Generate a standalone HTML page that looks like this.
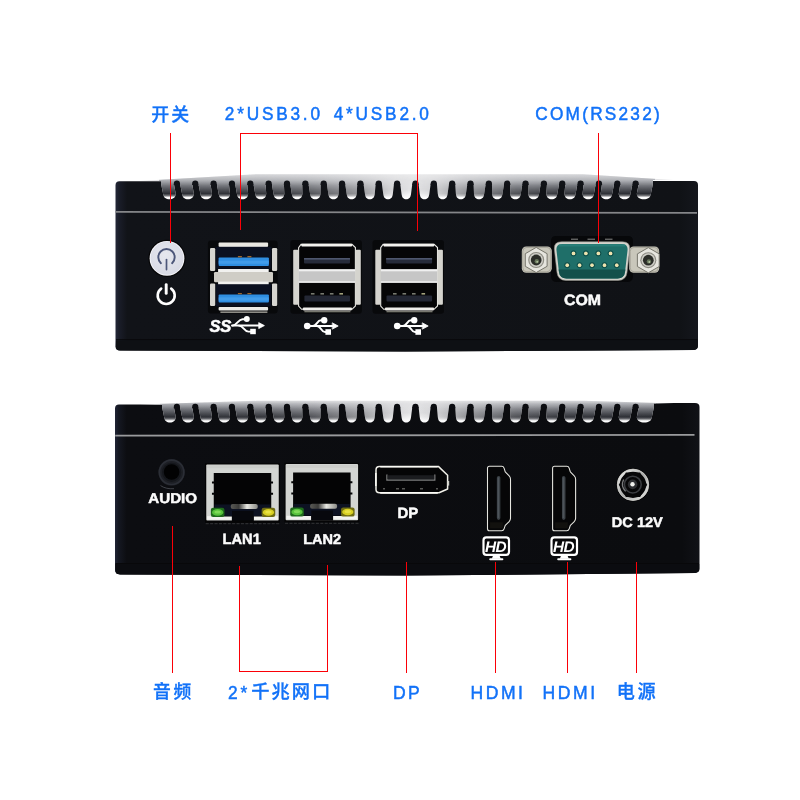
<!DOCTYPE html>
<html lang="zh-CN">
<head>
<meta charset="utf-8">
<title>接口说明</title>
<style>
html,body{margin:0;padding:0;background:#fff;}
body{width:800px;height:800px;overflow:hidden;position:relative;font-family:"Liberation Sans","Noto Sans CJK SC",sans-serif;}
svg{position:absolute;left:0;top:0;display:block;will-change:transform;}
.lb{font-family:"Liberation Sans","Noto Sans CJK SC",sans-serif;fill:#1272f8;stroke:#1272f8;stroke-width:0.5px;}
.cj{font-family:"Liberation Sans","Noto Sans CJK SC",sans-serif;fill:#1272f8;font-weight:500;stroke:#1272f8;stroke-width:0.3px;}
.dv{font-family:"Liberation Sans",sans-serif;font-weight:bold;fill:#fcfcfc;stroke:#fcfcfc;stroke-width:0.5px;stroke-linejoin:round;text-rendering:geometricPrecision;}
</style>
</head>
<body>
<svg width="800" height="800" viewBox="0 0 800 800">
<defs>
<radialGradient id="btn" cx="0.45" cy="0.4" r="0.7">
<stop offset="0" stop-color="#e6e7ee"/><stop offset="1" stop-color="#d6d8e3"/>
</radialGradient>
<linearGradient id="lanmetal" x1="0" y1="0" x2="1" y2="0">
<stop offset="0" stop-color="#5a5a55"/><stop offset="0.3" stop-color="#3a3a38"/><stop offset="0.6" stop-color="#e8e8e2"/><stop offset="1" stop-color="#8a8a84"/>
</linearGradient>
<linearGradient id="dcring" x1="0" y1="0" x2="1" y2="1">
<stop offset="0" stop-color="#f2f2f0"/><stop offset="0.5" stop-color="#a8a9a8"/><stop offset="1" stop-color="#e6e6e4"/>
</linearGradient>
<filter id="soft" x="-5%" y="-20%" width="110%" height="140%"><feGaussianBlur stdDeviation="0.3"/></filter>
<linearGradient id="bodyg" x1="0" y1="0" x2="1" y2="0">
<stop offset="0" stop-color="#242839"/><stop offset="0.006" stop-color="#1a1d29"/><stop offset="0.02" stop-color="#111318"/><stop offset="0.97" stop-color="#101216"/><stop offset="1" stop-color="#15171d"/>
</linearGradient>
<linearGradient id="bodyg2" x1="0" y1="0" x2="1" y2="0">
<stop offset="0" stop-color="#202435"/><stop offset="0.006" stop-color="#151822"/><stop offset="0.02" stop-color="#0c0d11"/><stop offset="0.97" stop-color="#0b0c0f"/><stop offset="1" stop-color="#111217"/>
</linearGradient>
</defs>

<!-- ============ TOP DEVICE (front) ============ -->
<g id="front">
<path d="M119.5 181.2 H161 V183 H653 V181 H694 Q698 181 698 185 V346 Q698 349.6 694 350 L405 351.6 L120 350.6 Q115.5 350.2 115.5 346.4 V185.2 Q115.5 181.2 119.5 181.2 Z" fill="url(#bodyg)"/>
<defs>
<linearGradient id="alt" x1="0" y1="174.2" x2="0" y2="199.2" gradientUnits="userSpaceOnUse">
<stop offset="0" stop-color="#ebebec"/><stop offset="0.248" stop-color="#e3e3e5"/><stop offset="0.608" stop-color="#e4e4e6"/><stop offset="0.808" stop-color="#f6f6f7"/><stop offset="1" stop-color="#ffffff"/>
</linearGradient>
<linearGradient id="adk" x1="0" y1="174.2" x2="0" y2="199.2" gradientUnits="userSpaceOnUse">
<stop offset="0" stop-color="#c8c9cd" stop-opacity="0.6"/><stop offset="0.248" stop-color="#a8aaaf" stop-opacity="0.9"/><stop offset="0.448" stop-color="#74767c" stop-opacity="1"/><stop offset="0.648" stop-color="#45474d" stop-opacity="1"/><stop offset="0.776" stop-color="#2a2c32" stop-opacity="1"/><stop offset="0.848" stop-color="#2a2c32" stop-opacity="0.7"/><stop offset="0.928" stop-color="#2a2c32" stop-opacity="0"/>
</linearGradient>
<linearGradient id="amx" x1="161" y1="0" x2="653" y2="0" gradientUnits="userSpaceOnUse">
<stop offset="0" stop-color="#fff"/><stop offset="0.2" stop-color="#f4f4f4"/><stop offset="0.3" stop-color="#cfcfcf"/><stop offset="0.4" stop-color="#7a7a7a"/><stop offset="0.47" stop-color="#1c1c1c"/><stop offset="0.51" stop-color="#000"/><stop offset="0.55" stop-color="#1c1c1c"/><stop offset="0.62" stop-color="#7a7a7a"/><stop offset="0.72" stop-color="#cfcfcf"/><stop offset="0.82" stop-color="#f4f4f4"/><stop offset="1" stop-color="#fff"/>
</linearGradient>
<mask id="amk" maskUnits="userSpaceOnUse" x="159" y="172.2" width="496" height="31.0"><rect x="159" y="172.2" width="496" height="31.0" fill="url(#amx)"/></mask>
</defs>
<path d="M139.00 181.00 L161.00 181.00 L161.00 183.40 L163.20 194.00 C163.70 198.00 166.03 199.20 169.49 199.20 C172.94 199.20 175.27 198.00 175.77 194.00 L173.80 183.40 L180.00 183.40 L182.14 194.00 C182.64 198.00 184.78 199.20 188.00 199.20 C191.23 199.20 193.36 198.00 193.86 194.00 L192.15 183.40 L198.35 183.40 L200.42 194.00 C200.92 198.00 203.02 199.20 206.19 199.20 C209.36 199.20 211.45 198.00 211.95 194.00 L210.50 183.40 L216.70 183.40 L218.71 194.00 C219.21 198.00 221.26 199.20 224.37 199.20 C227.49 199.20 229.54 198.00 230.04 194.00 L228.85 183.40 L235.05 183.40 L236.99 194.00 C237.49 198.00 239.50 199.20 242.56 199.20 C245.62 199.20 247.63 198.00 248.13 194.00 L247.20 183.40 L253.40 183.40 L255.27 194.00 C255.77 198.00 257.74 199.20 260.75 199.20 C263.76 199.20 265.72 198.00 266.22 194.00 L265.55 183.40 L271.75 183.40 L273.56 194.00 C274.06 198.00 275.98 199.20 278.93 199.20 C281.89 199.20 283.81 198.00 284.31 194.00 L283.90 183.40 L290.10 183.40 L291.84 194.00 C292.34 198.00 294.21 199.20 297.12 199.20 C300.02 199.20 301.90 198.00 302.40 194.00 L302.25 183.40 L308.45 183.40 L310.12 194.00 C310.62 198.00 312.45 199.20 315.30 199.20 C318.15 199.20 319.99 198.00 320.49 194.00 L320.60 183.40 L326.80 183.40 L328.40 194.00 C328.90 198.00 330.69 199.20 333.49 199.20 C336.29 199.20 338.07 198.00 338.57 194.00 L338.95 183.40 L345.15 183.40 L346.69 194.00 C347.19 198.00 348.93 199.20 351.68 199.20 C354.42 199.20 356.16 198.00 356.66 194.00 L357.30 183.40 L363.50 183.40 L364.97 194.00 C365.47 198.00 367.17 199.20 369.86 199.20 C372.55 199.20 374.25 198.00 374.75 194.00 L375.65 183.40 L381.85 183.40 L383.25 194.00 C383.75 198.00 385.41 199.20 388.05 199.20 C390.68 199.20 392.34 198.00 392.84 194.00 L394.00 183.40 L400.20 183.40 L401.54 194.00 C402.04 198.00 403.67 199.20 406.28 199.20 C408.89 199.20 410.52 198.00 411.02 194.00 L412.35 183.40 L418.55 183.40 L419.73 194.00 C420.23 198.00 421.88 199.20 424.52 199.20 C427.15 199.20 428.80 198.00 429.30 194.00 L430.70 183.40 L436.90 183.40 L437.82 194.00 C438.32 198.00 440.02 199.20 442.70 199.20 C445.39 199.20 447.08 198.00 447.58 194.00 L449.05 183.40 L455.25 183.40 L455.91 194.00 C456.41 198.00 458.15 199.20 460.89 199.20 C463.63 199.20 465.37 198.00 465.87 194.00 L467.40 183.40 L473.60 183.40 L474.00 194.00 C474.50 198.00 476.28 199.20 479.07 199.20 C481.87 199.20 483.65 198.00 484.15 194.00 L485.75 183.40 L491.95 183.40 L492.09 194.00 C492.59 198.00 494.41 199.20 497.26 199.20 C500.11 199.20 501.93 198.00 502.43 194.00 L504.10 183.40 L510.30 183.40 L510.17 194.00 C510.67 198.00 512.55 199.20 515.45 199.20 C518.34 199.20 520.22 198.00 520.72 194.00 L522.45 183.40 L528.65 183.40 L528.26 194.00 C528.76 198.00 530.68 199.20 533.63 199.20 C536.58 199.20 538.50 198.00 539.00 194.00 L540.80 183.40 L547.00 183.40 L546.35 194.00 C546.85 198.00 548.81 199.20 551.82 199.20 C554.82 199.20 556.78 198.00 557.28 194.00 L559.15 183.40 L565.35 183.40 L564.44 194.00 C564.94 198.00 566.94 199.20 570.00 199.20 C573.06 199.20 575.06 198.00 575.56 194.00 L577.50 183.40 L583.70 183.40 L582.53 194.00 C583.03 198.00 585.08 199.20 588.19 199.20 C591.30 199.20 593.35 198.00 593.85 194.00 L595.85 183.40 L602.05 183.40 L600.62 194.00 C601.12 198.00 603.21 199.20 606.37 199.20 C609.54 199.20 611.63 198.00 612.13 194.00 L614.20 183.40 L620.40 183.40 L618.71 194.00 C619.21 198.00 621.34 199.20 624.56 199.20 C627.78 199.20 629.91 198.00 630.41 194.00 L632.55 183.40 L638.75 183.40 L636.80 194.00 C637.30 198.00 639.95 199.20 643.80 199.20 C647.65 199.20 650.30 198.00 650.80 194.00 L653.00 183.40 L653.00 180.00 L673.00 180.00 L583.00 174.20 L256.00 174.20 Z" fill="url(#alt)"/>
<g mask="url(#amk)"><path d="M139.00 181.00 L161.00 181.00 L161.00 183.40 L163.20 194.00 C163.70 198.00 166.03 199.20 169.49 199.20 C172.94 199.20 175.27 198.00 175.77 194.00 L173.80 183.40 L180.00 183.40 L182.14 194.00 C182.64 198.00 184.78 199.20 188.00 199.20 C191.23 199.20 193.36 198.00 193.86 194.00 L192.15 183.40 L198.35 183.40 L200.42 194.00 C200.92 198.00 203.02 199.20 206.19 199.20 C209.36 199.20 211.45 198.00 211.95 194.00 L210.50 183.40 L216.70 183.40 L218.71 194.00 C219.21 198.00 221.26 199.20 224.37 199.20 C227.49 199.20 229.54 198.00 230.04 194.00 L228.85 183.40 L235.05 183.40 L236.99 194.00 C237.49 198.00 239.50 199.20 242.56 199.20 C245.62 199.20 247.63 198.00 248.13 194.00 L247.20 183.40 L253.40 183.40 L255.27 194.00 C255.77 198.00 257.74 199.20 260.75 199.20 C263.76 199.20 265.72 198.00 266.22 194.00 L265.55 183.40 L271.75 183.40 L273.56 194.00 C274.06 198.00 275.98 199.20 278.93 199.20 C281.89 199.20 283.81 198.00 284.31 194.00 L283.90 183.40 L290.10 183.40 L291.84 194.00 C292.34 198.00 294.21 199.20 297.12 199.20 C300.02 199.20 301.90 198.00 302.40 194.00 L302.25 183.40 L308.45 183.40 L310.12 194.00 C310.62 198.00 312.45 199.20 315.30 199.20 C318.15 199.20 319.99 198.00 320.49 194.00 L320.60 183.40 L326.80 183.40 L328.40 194.00 C328.90 198.00 330.69 199.20 333.49 199.20 C336.29 199.20 338.07 198.00 338.57 194.00 L338.95 183.40 L345.15 183.40 L346.69 194.00 C347.19 198.00 348.93 199.20 351.68 199.20 C354.42 199.20 356.16 198.00 356.66 194.00 L357.30 183.40 L363.50 183.40 L364.97 194.00 C365.47 198.00 367.17 199.20 369.86 199.20 C372.55 199.20 374.25 198.00 374.75 194.00 L375.65 183.40 L381.85 183.40 L383.25 194.00 C383.75 198.00 385.41 199.20 388.05 199.20 C390.68 199.20 392.34 198.00 392.84 194.00 L394.00 183.40 L400.20 183.40 L401.54 194.00 C402.04 198.00 403.67 199.20 406.28 199.20 C408.89 199.20 410.52 198.00 411.02 194.00 L412.35 183.40 L418.55 183.40 L419.73 194.00 C420.23 198.00 421.88 199.20 424.52 199.20 C427.15 199.20 428.80 198.00 429.30 194.00 L430.70 183.40 L436.90 183.40 L437.82 194.00 C438.32 198.00 440.02 199.20 442.70 199.20 C445.39 199.20 447.08 198.00 447.58 194.00 L449.05 183.40 L455.25 183.40 L455.91 194.00 C456.41 198.00 458.15 199.20 460.89 199.20 C463.63 199.20 465.37 198.00 465.87 194.00 L467.40 183.40 L473.60 183.40 L474.00 194.00 C474.50 198.00 476.28 199.20 479.07 199.20 C481.87 199.20 483.65 198.00 484.15 194.00 L485.75 183.40 L491.95 183.40 L492.09 194.00 C492.59 198.00 494.41 199.20 497.26 199.20 C500.11 199.20 501.93 198.00 502.43 194.00 L504.10 183.40 L510.30 183.40 L510.17 194.00 C510.67 198.00 512.55 199.20 515.45 199.20 C518.34 199.20 520.22 198.00 520.72 194.00 L522.45 183.40 L528.65 183.40 L528.26 194.00 C528.76 198.00 530.68 199.20 533.63 199.20 C536.58 199.20 538.50 198.00 539.00 194.00 L540.80 183.40 L547.00 183.40 L546.35 194.00 C546.85 198.00 548.81 199.20 551.82 199.20 C554.82 199.20 556.78 198.00 557.28 194.00 L559.15 183.40 L565.35 183.40 L564.44 194.00 C564.94 198.00 566.94 199.20 570.00 199.20 C573.06 199.20 575.06 198.00 575.56 194.00 L577.50 183.40 L583.70 183.40 L582.53 194.00 C583.03 198.00 585.08 199.20 588.19 199.20 C591.30 199.20 593.35 198.00 593.85 194.00 L595.85 183.40 L602.05 183.40 L600.62 194.00 C601.12 198.00 603.21 199.20 606.37 199.20 C609.54 199.20 611.63 198.00 612.13 194.00 L614.20 183.40 L620.40 183.40 L618.71 194.00 C619.21 198.00 621.34 199.20 624.56 199.20 C627.78 199.20 629.91 198.00 630.41 194.00 L632.55 183.40 L638.75 183.40 L636.80 194.00 C637.30 198.00 639.95 199.20 643.80 199.20 C647.65 199.20 650.30 198.00 650.80 194.00 L653.00 183.40 L653.00 180.00 L673.00 180.00 L583.00 174.20 L256.00 174.20 Z" fill="url(#adk)"/></g>
<path d="M173.70 184.90 L173.80 183.50 A3.10 3.10 0 0 1 180.00 183.50 L180.10 184.90 Z" fill="#111318"/>
<path d="M192.05 184.90 L192.15 183.50 A3.10 3.10 0 0 1 198.35 183.50 L198.45 184.90 Z" fill="#111318"/>
<path d="M210.40 184.90 L210.50 183.50 A3.10 3.10 0 0 1 216.70 183.50 L216.80 184.90 Z" fill="#111318"/>
<path d="M228.75 184.90 L228.85 183.50 A3.10 3.10 0 0 1 235.05 183.50 L235.15 184.90 Z" fill="#111318"/>
<path d="M247.10 184.90 L247.20 183.50 A3.10 3.10 0 0 1 253.40 183.50 L253.50 184.90 Z" fill="#111318"/>
<path d="M265.45 184.90 L265.55 183.50 A3.10 3.10 0 0 1 271.75 183.50 L271.85 184.90 Z" fill="#111318"/>
<path d="M283.80 184.90 L283.90 183.50 A3.10 3.10 0 0 1 290.10 183.50 L290.20 184.90 Z" fill="#111318"/>
<path d="M302.15 184.90 L302.25 183.50 A3.10 3.10 0 0 1 308.45 183.50 L308.55 184.90 Z" fill="#111318"/>
<path d="M320.50 184.90 L320.60 183.50 A3.10 3.10 0 0 1 326.80 183.50 L326.90 184.90 Z" fill="#111318"/>
<path d="M338.85 184.90 L338.95 183.50 A3.10 3.10 0 0 1 345.15 183.50 L345.25 184.90 Z" fill="#111318"/>
<path d="M357.20 184.90 L357.30 183.50 A3.10 3.10 0 0 1 363.50 183.50 L363.60 184.90 Z" fill="#111318"/>
<path d="M375.55 184.90 L375.65 183.50 A3.10 3.10 0 0 1 381.85 183.50 L381.95 184.90 Z" fill="#111318"/>
<path d="M393.90 184.90 L394.00 183.50 A3.10 3.10 0 0 1 400.20 183.50 L400.30 184.90 Z" fill="#111318"/>
<path d="M412.25 184.90 L412.35 183.50 A3.10 3.10 0 0 1 418.55 183.50 L418.65 184.90 Z" fill="#111318"/>
<path d="M430.60 184.90 L430.70 183.50 A3.10 3.10 0 0 1 436.90 183.50 L437.00 184.90 Z" fill="#111318"/>
<path d="M448.95 184.90 L449.05 183.50 A3.10 3.10 0 0 1 455.25 183.50 L455.35 184.90 Z" fill="#111318"/>
<path d="M467.30 184.90 L467.40 183.50 A3.10 3.10 0 0 1 473.60 183.50 L473.70 184.90 Z" fill="#111318"/>
<path d="M485.65 184.90 L485.75 183.50 A3.10 3.10 0 0 1 491.95 183.50 L492.05 184.90 Z" fill="#111318"/>
<path d="M504.00 184.90 L504.10 183.50 A3.10 3.10 0 0 1 510.30 183.50 L510.40 184.90 Z" fill="#111318"/>
<path d="M522.35 184.90 L522.45 183.50 A3.10 3.10 0 0 1 528.65 183.50 L528.75 184.90 Z" fill="#111318"/>
<path d="M540.70 184.90 L540.80 183.50 A3.10 3.10 0 0 1 547.00 183.50 L547.10 184.90 Z" fill="#111318"/>
<path d="M559.05 184.90 L559.15 183.50 A3.10 3.10 0 0 1 565.35 183.50 L565.45 184.90 Z" fill="#111318"/>
<path d="M577.40 184.90 L577.50 183.50 A3.10 3.10 0 0 1 583.70 183.50 L583.80 184.90 Z" fill="#111318"/>
<path d="M595.75 184.90 L595.85 183.50 A3.10 3.10 0 0 1 602.05 183.50 L602.15 184.90 Z" fill="#111318"/>
<path d="M614.10 184.90 L614.20 183.50 A3.10 3.10 0 0 1 620.40 183.50 L620.50 184.90 Z" fill="#111318"/>
<path d="M632.45 184.90 L632.55 183.50 A3.10 3.10 0 0 1 638.75 183.50 L638.85 184.90 Z" fill="#111318"/>
<path d="M115.6 211 L697 212 V213.8 L115.6 212.8 Z" fill="#858689"/>
<rect x="116" y="339.2" width="581.5" height="1.1" fill="#08080a"/>
<path d="M116 340.3 H697.8 V346 Q697.8 349.6 694 350 L405 351.6 L120 350.6 Q115.8 350.2 115.8 346.4 Z" fill="#0e1014"/>
<g>
<circle cx="167" cy="258.3" r="18.6" fill="#050506"/>
<circle cx="167" cy="258.3" r="17.4" fill="#f6f6fa"/>
<circle cx="167" cy="258.3" r="16.5" fill="url(#btn)"/>
<path d="M160.9 263.2 A8.2 8.2 0 1 1 172.1 263.2" fill="none" stroke="#4c5679" stroke-width="1.9" stroke-linecap="round"/>
<path d="M166.5 259.6 V269.6" stroke="#4c5679" stroke-width="1.7" stroke-linecap="round"/>
<path d="M161.2 288.6 A8.5 8.5 0 1 0 171.2 288.6" fill="none" stroke="#ffffff" stroke-width="2.6" stroke-linecap="round"/>
<path d="M166.2 284.6 V293.4" stroke="#ffffff" stroke-width="2.9" stroke-linecap="round"/>
</g>
<g transform="translate(207.9 240.6)">
<rect x="0" y="0" width="69.7" height="73" rx="3" fill="#08090b"/>
<rect x="10.7" y="2" width="49.5" height="4.3" rx="1" fill="#e9e7e1"/>
<rect x="7.8" y="6.2" width="55.7" height="22" fill="#0b1020"/>
<rect x="7.8" y="43.4" width="55.7" height="22.4" fill="#0b1020"/>
<rect x="2.1" y="7.4" width="5.2" height="23" rx="1.2" fill="#d6d5d0"/>
<rect x="64.1" y="7.4" width="5.2" height="23" rx="1.2" fill="#d6d5d0"/>
<rect x="2.1" y="42.8" width="5.2" height="22.6" rx="1.2" fill="#d6d5d0"/>
<rect x="64.1" y="42.8" width="5.2" height="22.6" rx="1.2" fill="#d6d5d0"/>
<rect x="10.2" y="28.4" width="50.6" height="3.4" fill="#f1f1ef"/>
<rect x="6.1" y="31.4" width="59" height="10.3" rx="1.2" fill="#cfcdc6"/>
<rect x="10.2" y="41" width="50.6" height="2.6" fill="#f1f1ef"/>
<rect x="10.7" y="16.9" width="50.3" height="8.5" rx="1" fill="#2f8ee2"/>
<rect x="10.7" y="20" width="50.3" height="3.2" fill="#4aa3ee" opacity="0.7"/>
<rect x="10.7" y="54" width="50.3" height="8" rx="1" fill="#2f8ee2"/>
<rect x="10.7" y="56.8" width="50.3" height="3.2" fill="#4aa3ee" opacity="0.7"/>
<g fill="#b8742c" opacity="0.85"><rect x="30" y="15.4" width="4" height="1.3"/><rect x="39.5" y="15.4" width="4" height="1.3"/><rect x="30" y="52.4" width="4" height="1.2"/><rect x="39.5" y="52.4" width="4" height="1.2"/></g>
<rect x="10.7" y="66.4" width="49.5" height="3.6" rx="1" fill="#ecebe7"/>
<rect x="12.5" y="70.8" width="47" height="1.6" fill="#8d8c86"/>
</g>
<g transform="translate(290.4 240)">
<rect x="0" y="0" width="71.5" height="73.7" rx="3" fill="#08090b"/>
<path d="M10.6 4.4 H61.6 L65 7.6 V66 L61.6 69.3 H11.2 L8.2 66 V7.6 Z" fill="#050506" stroke="#e8e7e2" stroke-width="1.1"/>
<rect x="10.8" y="3.7" width="51" height="2.7" rx="0.8" fill="#f3f2ee"/>
<rect x="2.8" y="9.8" width="5.4" height="55" rx="1" fill="#d5d4ce"/>
<rect x="65.2" y="9.8" width="5.2" height="55" rx="1" fill="#d5d4ce"/>
<rect x="8.4" y="29.3" width="56.4" height="13.4" fill="#c6c6c6"/>
<rect x="8.4" y="29.3" width="56.4" height="2" fill="#f0f0f0"/>
<rect x="8.4" y="41.2" width="56.4" height="1.6" fill="#ececec"/>
<rect x="13.6" y="18" width="46" height="5.6" rx="1" fill="#262b3a"/>
<rect x="13.6" y="18" width="46" height="1.6" fill="#59617a" opacity="0.8"/>
<rect x="14" y="55.6" width="45.6" height="5.8" rx="1" fill="#232734"/>
<g fill="#777a70"><rect x="20.5" y="53" width="3.6" height="1.6"/><rect x="30" y="53" width="3.6" height="1.6"/><rect x="39.5" y="53" width="3.6" height="1.6"/><rect x="49" y="53" width="3.6" height="1.6" fill="#a3a27c"/></g>
<rect x="12.5" y="67.4" width="49" height="3" rx="0.8" fill="#efeeea"/>
<rect x="14" y="71" width="46" height="1.3" fill="#77776f"/>
</g>
<g transform="translate(372.5 240)">
<rect x="0" y="0" width="71.5" height="73.7" rx="3" fill="#08090b"/>
<path d="M10.6 4.4 H61.6 L65 7.6 V66 L61.6 69.3 H11.2 L8.2 66 V7.6 Z" fill="#050506" stroke="#e8e7e2" stroke-width="1.1"/>
<rect x="10.8" y="3.7" width="51" height="2.7" rx="0.8" fill="#f3f2ee"/>
<rect x="2.8" y="9.8" width="5.4" height="55" rx="1" fill="#d5d4ce"/>
<rect x="65.2" y="9.8" width="5.2" height="55" rx="1" fill="#d5d4ce"/>
<rect x="8.4" y="29.3" width="56.4" height="13.4" fill="#c6c6c6"/>
<rect x="8.4" y="29.3" width="56.4" height="2" fill="#f0f0f0"/>
<rect x="8.4" y="41.2" width="56.4" height="1.6" fill="#ececec"/>
<rect x="13.6" y="18" width="46" height="5.6" rx="1" fill="#262b3a"/>
<rect x="13.6" y="18" width="46" height="1.6" fill="#59617a" opacity="0.8"/>
<rect x="14" y="55.6" width="45.6" height="5.8" rx="1" fill="#232734"/>
<g fill="#777a70"><rect x="20.5" y="53" width="3.6" height="1.6"/><rect x="30" y="53" width="3.6" height="1.6"/><rect x="39.5" y="53" width="3.6" height="1.6"/><rect x="49" y="53" width="3.6" height="1.6" fill="#a3a27c"/></g>
<rect x="12.5" y="67.4" width="49" height="3" rx="0.8" fill="#efeeea"/>
<rect x="14" y="71" width="46" height="1.3" fill="#77776f"/>
</g>
<g>
<text x="209.4" y="331.5" font-family="'Liberation Sans',sans-serif" font-weight="bold" font-style="italic" font-size="16.6" fill="#fff" stroke="#fff" stroke-width="0.5" letter-spacing="-0.3">SS</text>
<g transform="translate(232 325.4)" fill="#fff" stroke="#fff" stroke-linecap="round" stroke-linejoin="round">
<path d="M0 0.2 H29" fill="none" stroke-width="2"/>
<path d="M27 -2.6 L32.4 0.2 L27 3 Z" stroke-width="0.8"/>
<path d="M0.5 0.2 C5 0.2 6 -6.2 10.5 -6.2 H13" fill="none" stroke-width="1.9"/>
<circle cx="14.8" cy="-6.4" r="3" stroke="none"/>
<path d="M7 0.2 C11.5 0.2 12 6.2 16.5 6.2 H19" fill="none" stroke-width="1.9"/>
<rect x="18.2" y="3.4" width="5.6" height="5.4" stroke="none"/>
</g></g>
<g transform="translate(307 326) scale(1.0)" fill="#fff" stroke="#fff" stroke-linecap="round" stroke-linejoin="round">
<circle cx="0.2" cy="0" r="3.3" stroke="none"/>
<path d="M0 0 H28" fill="none" stroke-width="2.1"/>
<path d="M25.6 -3 L31.2 0 L25.6 3 Z" stroke-width="0.8"/>
<path d="M6 0 C10 0 10 -5.8 14 -5.8 H17" fill="none" stroke-width="2"/>
<circle cx="17.2" cy="-5.8" r="3.2" stroke="none"/>
<path d="M10 0 C14 0 14 6 18 6 H20" fill="none" stroke-width="2"/>
<rect x="18.4" y="3.2" width="5.6" height="5.6" stroke="none"/>
</g>
<g transform="translate(397 326) scale(1.0)" fill="#fff" stroke="#fff" stroke-linecap="round" stroke-linejoin="round">
<circle cx="0.2" cy="0" r="3.3" stroke="none"/>
<path d="M0 0 H28" fill="none" stroke-width="2.1"/>
<path d="M25.6 -3 L31.2 0 L25.6 3 Z" stroke-width="0.8"/>
<path d="M6 0 C10 0 10 -5.8 14 -5.8 H17" fill="none" stroke-width="2"/>
<circle cx="17.2" cy="-5.8" r="3.2" stroke="none"/>
<path d="M10 0 C14 0 14 6 18 6 H20" fill="none" stroke-width="2"/>
<rect x="18.4" y="3.2" width="5.6" height="5.6" stroke="none"/>
</g>
<g>
<path d="M556 236 H628 Q633 236 633 241 V276 Q633 282 627 282 H557 Q551 282 551 276 V241 Q551 236 556 236 Z" fill="#07080a"/>
<g fill="#6b6c6a"><rect x="571" y="238.6" width="7" height="1.3"/><rect x="587.5" y="238.6" width="7.5" height="1.3"/><rect x="605" y="238.6" width="7.5" height="1.3"/></g>
<rect x="521.8" y="246.4" width="30" height="26.4" rx="4.5" fill="#c9c7bb"/>
<rect x="522.8" y="247.4" width="28" height="24.4" rx="4" fill="none" stroke="#8e8c80" stroke-width="0.8" opacity="0.7"/>
<polygon points="547.11,266.30 536.20,272.60 525.29,266.30 525.29,253.70 536.20,247.40 547.11,253.70" fill="#e6e5de" stroke="#77766c" stroke-width="1"/>
<circle cx="536.2" cy="260" r="8" fill="#8c8b82"/>
<circle cx="536.2" cy="260" r="6.9" fill="#d0cfc8"/>
<circle cx="536.2" cy="260" r="5.4" fill="#2b2d28"/>
<circle cx="536.8000000000001" cy="261.2" r="2.2" fill="#66755a"/>
<circle cx="537.2" cy="261.8" r="0.9" fill="#b9c9a6"/>
<rect x="629.2" y="246.4" width="30" height="26.4" rx="4.5" fill="#c9c7bb"/>
<rect x="630.2" y="247.4" width="28" height="24.4" rx="4" fill="none" stroke="#8e8c80" stroke-width="0.8" opacity="0.7"/>
<polygon points="659.21,266.50 648.30,272.80 637.39,266.50 637.39,253.90 648.30,247.60 659.21,253.90" fill="#e6e5de" stroke="#77766c" stroke-width="1"/>
<circle cx="648.3" cy="260.2" r="8" fill="#8c8b82"/>
<circle cx="648.3" cy="260.2" r="6.9" fill="#d0cfc8"/>
<circle cx="648.3" cy="260.2" r="5.4" fill="#2b2d28"/>
<circle cx="648.9" cy="261.4" r="2.2" fill="#66755a"/>
<circle cx="649.3" cy="262.0" r="0.9" fill="#b9c9a6"/>
<path d="M561.5 241.8 H622.5 Q630.6 241.8 629.6 249.8 L627 272.5 Q626 280.4 618 280.4 H566 Q558 280.4 557 272.5 L554.4 249.8 Q553.4 241.8 561.5 241.8 Z" fill="#d4d3cc" stroke="#8d8d86" stroke-width="0.6"/>
<path d="M562.5 243.9 H621.5 Q628.3 243.9 627.5 250.4 L625.1 271.5 Q624.3 278.4 617.5 278.4 H566.5 Q559.7 278.4 558.9 271.5 L556.5 250.4 Q555.7 243.9 562.5 243.9 Z" fill="#1f6f69"/>
<path d="M558.6 269.5 H625.4 L625.1 271.5 Q624.3 278.4 617.5 278.4 H566.5 Q559.7 278.4 558.9 271.5 Z" fill="#13504b"/>
<rect x="558.5" y="244.2" width="67" height="2.2" rx="1" fill="#2e8a83" opacity="0.6"/>
<circle cx="573.5" cy="253.4" r="1.9" fill="#efe2ae"/><circle cx="573.5" cy="253.4" r="2.6" fill="none" stroke="#0f4742" stroke-width="0.9"/><circle cx="585.9" cy="253.4" r="1.9" fill="#efe2ae"/><circle cx="585.9" cy="253.4" r="2.6" fill="none" stroke="#0f4742" stroke-width="0.9"/><circle cx="598.3" cy="253.4" r="1.9" fill="#efe2ae"/><circle cx="598.3" cy="253.4" r="2.6" fill="none" stroke="#0f4742" stroke-width="0.9"/><circle cx="610.6" cy="253.4" r="1.9" fill="#efe2ae"/><circle cx="610.6" cy="253.4" r="2.6" fill="none" stroke="#0f4742" stroke-width="0.9"/><circle cx="567.2" cy="265.2" r="1.9" fill="#efe2ae"/><circle cx="567.2" cy="265.2" r="2.6" fill="none" stroke="#0f4742" stroke-width="0.9"/><circle cx="579.6" cy="265.2" r="1.9" fill="#efe2ae"/><circle cx="579.6" cy="265.2" r="2.6" fill="none" stroke="#0f4742" stroke-width="0.9"/><circle cx="592" cy="265.2" r="1.9" fill="#efe2ae"/><circle cx="592" cy="265.2" r="2.6" fill="none" stroke="#0f4742" stroke-width="0.9"/><circle cx="604.5" cy="265.2" r="1.9" fill="#efe2ae"/><circle cx="604.5" cy="265.2" r="2.6" fill="none" stroke="#0f4742" stroke-width="0.9"/><circle cx="616.8" cy="265.2" r="1.9" fill="#efe2ae"/><circle cx="616.8" cy="265.2" r="2.6" fill="none" stroke="#0f4742" stroke-width="0.9"/>
</g>
</g>

<!-- ============ BOTTOM DEVICE (rear) ============ -->
<g id="rear">
<path d="M119 404.6 H162 V406 H654 V403 H695 Q699.5 403 699.5 407 V569 Q699.5 572.6 695 573 L405 575.6 L120 574.6 Q115 574 115 570 V408.6 Q115 404.6 119 404.6 Z" fill="url(#bodyg2)"/>
<defs>
<linearGradient id="blt" x1="0" y1="400.8" x2="0" y2="422.4" gradientUnits="userSpaceOnUse">
<stop offset="0" stop-color="#ebebec"/><stop offset="0.139" stop-color="#e3e3e5"/><stop offset="0.556" stop-color="#e4e4e6"/><stop offset="0.787" stop-color="#f6f6f7"/><stop offset="1" stop-color="#ffffff"/>
</linearGradient>
<linearGradient id="bdk" x1="0" y1="400.8" x2="0" y2="422.4" gradientUnits="userSpaceOnUse">
<stop offset="0" stop-color="#c8c9cd" stop-opacity="0.6"/><stop offset="0.139" stop-color="#a8aaaf" stop-opacity="0.9"/><stop offset="0.370" stop-color="#74767c" stop-opacity="1"/><stop offset="0.602" stop-color="#45474d" stop-opacity="1"/><stop offset="0.750" stop-color="#2a2c32" stop-opacity="1"/><stop offset="0.833" stop-color="#2a2c32" stop-opacity="0.7"/><stop offset="0.926" stop-color="#2a2c32" stop-opacity="0"/>
</linearGradient>
<linearGradient id="bmx" x1="162" y1="0" x2="654" y2="0" gradientUnits="userSpaceOnUse">
<stop offset="0" stop-color="#fff"/><stop offset="0.2" stop-color="#f4f4f4"/><stop offset="0.3" stop-color="#cfcfcf"/><stop offset="0.4" stop-color="#7a7a7a"/><stop offset="0.47" stop-color="#1c1c1c"/><stop offset="0.51" stop-color="#000"/><stop offset="0.55" stop-color="#1c1c1c"/><stop offset="0.62" stop-color="#7a7a7a"/><stop offset="0.72" stop-color="#cfcfcf"/><stop offset="0.82" stop-color="#f4f4f4"/><stop offset="1" stop-color="#fff"/>
</linearGradient>
<mask id="bmk" maskUnits="userSpaceOnUse" x="160" y="398.8" width="496" height="27.599999999999966"><rect x="160" y="398.8" width="496" height="27.599999999999966" fill="url(#bmx)"/></mask>
</defs>
<path d="M140.00 404.40 L162.00 404.40 L162.00 406.80 L164.20 417.20 C164.70 421.20 166.81 422.40 169.99 422.40 C173.18 422.40 175.29 421.20 175.79 417.20 L173.80 406.80 L180.00 406.80 L182.15 417.20 C182.65 421.20 184.79 422.40 188.01 422.40 C191.24 422.40 193.38 421.20 193.88 417.20 L192.15 406.80 L198.35 406.80 L200.43 417.20 C200.93 421.20 203.02 422.40 206.20 422.40 C209.37 422.40 211.47 421.20 211.97 417.20 L210.50 406.80 L216.70 406.80 L218.71 417.20 C219.21 421.20 221.26 422.40 224.38 422.40 C227.50 422.40 229.55 421.20 230.05 417.20 L228.85 406.80 L235.05 406.80 L236.99 417.20 C237.49 421.20 239.50 422.40 242.57 422.40 C245.64 422.40 247.64 421.20 248.14 417.20 L247.20 406.80 L253.40 406.80 L255.28 417.20 C255.78 421.20 257.74 422.40 260.75 422.40 C263.77 422.40 265.73 421.20 266.23 417.20 L265.55 406.80 L271.75 406.80 L273.56 417.20 C274.06 421.20 275.98 422.40 278.94 422.40 C281.90 422.40 283.82 421.20 284.32 417.20 L283.90 406.80 L290.10 406.80 L291.84 417.20 C292.34 421.20 294.22 422.40 297.13 422.40 C300.03 422.40 301.91 421.20 302.41 417.20 L302.25 406.80 L308.45 406.80 L310.13 417.20 C310.63 421.20 312.46 422.40 315.31 422.40 C318.17 422.40 320.00 421.20 320.50 417.20 L320.60 406.80 L326.80 406.80 L328.41 417.20 C328.91 421.20 330.70 422.40 333.50 422.40 C336.30 422.40 338.09 421.20 338.59 417.20 L338.95 406.80 L345.15 406.80 L346.69 417.20 C347.19 421.20 348.94 422.40 351.68 422.40 C354.43 422.40 356.18 421.20 356.68 417.20 L357.30 406.80 L363.50 406.80 L364.97 417.20 C365.47 421.20 367.18 422.40 369.87 422.40 C372.56 422.40 374.27 421.20 374.77 417.20 L375.65 406.80 L381.85 406.80 L383.26 417.20 C383.76 421.20 385.42 422.40 388.06 422.40 C390.70 422.40 392.36 421.20 392.86 417.20 L394.00 406.80 L400.20 406.80 L401.54 417.20 C402.04 421.20 403.67 422.40 406.28 422.40 C408.89 422.40 410.52 421.20 411.02 417.20 L412.35 406.80 L418.55 406.80 L419.74 417.20 C420.24 421.20 421.90 422.40 424.52 422.40 C427.15 422.40 428.81 421.20 429.31 417.20 L430.70 406.80 L436.90 406.80 L437.83 417.20 C438.33 421.20 440.03 422.40 442.71 422.40 C445.39 422.40 447.09 421.20 447.59 417.20 L449.05 406.80 L455.25 406.80 L455.92 417.20 C456.42 421.20 458.16 422.40 460.90 422.40 C463.63 422.40 465.37 421.20 465.87 417.20 L467.40 406.80 L473.60 406.80 L474.01 417.20 C474.51 421.20 476.29 422.40 479.08 422.40 C481.87 422.40 483.65 421.20 484.15 417.20 L485.75 406.80 L491.95 406.80 L492.10 417.20 C492.60 421.20 494.43 422.40 497.27 422.40 C500.11 422.40 501.94 421.20 502.44 417.20 L504.10 406.80 L510.30 406.80 L510.19 417.20 C510.69 421.20 512.56 422.40 515.45 422.40 C518.35 422.40 520.22 421.20 520.72 417.20 L522.45 406.80 L528.65 406.80 L528.28 417.20 C528.78 421.20 530.69 422.40 533.64 422.40 C536.59 422.40 538.50 421.20 539.00 417.20 L540.80 406.80 L547.00 406.80 L546.37 417.20 C546.87 421.20 548.82 422.40 551.83 422.40 C554.83 422.40 556.79 421.20 557.29 417.20 L559.15 406.80 L565.35 406.80 L564.46 417.20 C564.96 421.20 566.96 422.40 570.01 422.40 C573.07 422.40 575.07 421.20 575.57 417.20 L577.50 406.80 L583.70 406.80 L582.54 417.20 C583.04 421.20 585.09 422.40 588.20 422.40 C591.31 422.40 593.35 421.20 593.85 417.20 L595.85 406.80 L602.05 406.80 L600.63 417.20 C601.13 421.20 603.22 422.40 606.38 422.40 C609.55 422.40 611.63 421.20 612.13 417.20 L614.20 406.80 L620.40 406.80 L618.72 417.20 C619.22 421.20 621.35 422.40 624.57 422.40 C627.79 422.40 629.92 421.20 630.42 417.20 L632.55 406.80 L638.75 406.80 L636.81 417.20 C637.31 421.20 640.18 422.40 644.31 422.40 C648.43 422.40 651.30 421.20 651.80 417.20 L654.00 406.80 L654.00 403.40 L674.00 403.40 L584.00 400.80 L257.00 400.80 Z" fill="url(#blt)"/>
<g mask="url(#bmk)"><path d="M140.00 404.40 L162.00 404.40 L162.00 406.80 L164.20 417.20 C164.70 421.20 166.81 422.40 169.99 422.40 C173.18 422.40 175.29 421.20 175.79 417.20 L173.80 406.80 L180.00 406.80 L182.15 417.20 C182.65 421.20 184.79 422.40 188.01 422.40 C191.24 422.40 193.38 421.20 193.88 417.20 L192.15 406.80 L198.35 406.80 L200.43 417.20 C200.93 421.20 203.02 422.40 206.20 422.40 C209.37 422.40 211.47 421.20 211.97 417.20 L210.50 406.80 L216.70 406.80 L218.71 417.20 C219.21 421.20 221.26 422.40 224.38 422.40 C227.50 422.40 229.55 421.20 230.05 417.20 L228.85 406.80 L235.05 406.80 L236.99 417.20 C237.49 421.20 239.50 422.40 242.57 422.40 C245.64 422.40 247.64 421.20 248.14 417.20 L247.20 406.80 L253.40 406.80 L255.28 417.20 C255.78 421.20 257.74 422.40 260.75 422.40 C263.77 422.40 265.73 421.20 266.23 417.20 L265.55 406.80 L271.75 406.80 L273.56 417.20 C274.06 421.20 275.98 422.40 278.94 422.40 C281.90 422.40 283.82 421.20 284.32 417.20 L283.90 406.80 L290.10 406.80 L291.84 417.20 C292.34 421.20 294.22 422.40 297.13 422.40 C300.03 422.40 301.91 421.20 302.41 417.20 L302.25 406.80 L308.45 406.80 L310.13 417.20 C310.63 421.20 312.46 422.40 315.31 422.40 C318.17 422.40 320.00 421.20 320.50 417.20 L320.60 406.80 L326.80 406.80 L328.41 417.20 C328.91 421.20 330.70 422.40 333.50 422.40 C336.30 422.40 338.09 421.20 338.59 417.20 L338.95 406.80 L345.15 406.80 L346.69 417.20 C347.19 421.20 348.94 422.40 351.68 422.40 C354.43 422.40 356.18 421.20 356.68 417.20 L357.30 406.80 L363.50 406.80 L364.97 417.20 C365.47 421.20 367.18 422.40 369.87 422.40 C372.56 422.40 374.27 421.20 374.77 417.20 L375.65 406.80 L381.85 406.80 L383.26 417.20 C383.76 421.20 385.42 422.40 388.06 422.40 C390.70 422.40 392.36 421.20 392.86 417.20 L394.00 406.80 L400.20 406.80 L401.54 417.20 C402.04 421.20 403.67 422.40 406.28 422.40 C408.89 422.40 410.52 421.20 411.02 417.20 L412.35 406.80 L418.55 406.80 L419.74 417.20 C420.24 421.20 421.90 422.40 424.52 422.40 C427.15 422.40 428.81 421.20 429.31 417.20 L430.70 406.80 L436.90 406.80 L437.83 417.20 C438.33 421.20 440.03 422.40 442.71 422.40 C445.39 422.40 447.09 421.20 447.59 417.20 L449.05 406.80 L455.25 406.80 L455.92 417.20 C456.42 421.20 458.16 422.40 460.90 422.40 C463.63 422.40 465.37 421.20 465.87 417.20 L467.40 406.80 L473.60 406.80 L474.01 417.20 C474.51 421.20 476.29 422.40 479.08 422.40 C481.87 422.40 483.65 421.20 484.15 417.20 L485.75 406.80 L491.95 406.80 L492.10 417.20 C492.60 421.20 494.43 422.40 497.27 422.40 C500.11 422.40 501.94 421.20 502.44 417.20 L504.10 406.80 L510.30 406.80 L510.19 417.20 C510.69 421.20 512.56 422.40 515.45 422.40 C518.35 422.40 520.22 421.20 520.72 417.20 L522.45 406.80 L528.65 406.80 L528.28 417.20 C528.78 421.20 530.69 422.40 533.64 422.40 C536.59 422.40 538.50 421.20 539.00 417.20 L540.80 406.80 L547.00 406.80 L546.37 417.20 C546.87 421.20 548.82 422.40 551.83 422.40 C554.83 422.40 556.79 421.20 557.29 417.20 L559.15 406.80 L565.35 406.80 L564.46 417.20 C564.96 421.20 566.96 422.40 570.01 422.40 C573.07 422.40 575.07 421.20 575.57 417.20 L577.50 406.80 L583.70 406.80 L582.54 417.20 C583.04 421.20 585.09 422.40 588.20 422.40 C591.31 422.40 593.35 421.20 593.85 417.20 L595.85 406.80 L602.05 406.80 L600.63 417.20 C601.13 421.20 603.22 422.40 606.38 422.40 C609.55 422.40 611.63 421.20 612.13 417.20 L614.20 406.80 L620.40 406.80 L618.72 417.20 C619.22 421.20 621.35 422.40 624.57 422.40 C627.79 422.40 629.92 421.20 630.42 417.20 L632.55 406.80 L638.75 406.80 L636.81 417.20 C637.31 421.20 640.18 422.40 644.31 422.40 C648.43 422.40 651.30 421.20 651.80 417.20 L654.00 406.80 L654.00 403.40 L674.00 403.40 L584.00 400.80 L257.00 400.80 Z" fill="url(#bdk)"/></g>
<path d="M173.70 408.30 L173.80 406.90 A3.10 3.10 0 0 1 180.00 406.90 L180.10 408.30 Z" fill="#0c0d11"/>
<path d="M192.05 408.30 L192.15 406.90 A3.10 3.10 0 0 1 198.35 406.90 L198.45 408.30 Z" fill="#0c0d11"/>
<path d="M210.40 408.30 L210.50 406.90 A3.10 3.10 0 0 1 216.70 406.90 L216.80 408.30 Z" fill="#0c0d11"/>
<path d="M228.75 408.30 L228.85 406.90 A3.10 3.10 0 0 1 235.05 406.90 L235.15 408.30 Z" fill="#0c0d11"/>
<path d="M247.10 408.30 L247.20 406.90 A3.10 3.10 0 0 1 253.40 406.90 L253.50 408.30 Z" fill="#0c0d11"/>
<path d="M265.45 408.30 L265.55 406.90 A3.10 3.10 0 0 1 271.75 406.90 L271.85 408.30 Z" fill="#0c0d11"/>
<path d="M283.80 408.30 L283.90 406.90 A3.10 3.10 0 0 1 290.10 406.90 L290.20 408.30 Z" fill="#0c0d11"/>
<path d="M302.15 408.30 L302.25 406.90 A3.10 3.10 0 0 1 308.45 406.90 L308.55 408.30 Z" fill="#0c0d11"/>
<path d="M320.50 408.30 L320.60 406.90 A3.10 3.10 0 0 1 326.80 406.90 L326.90 408.30 Z" fill="#0c0d11"/>
<path d="M338.85 408.30 L338.95 406.90 A3.10 3.10 0 0 1 345.15 406.90 L345.25 408.30 Z" fill="#0c0d11"/>
<path d="M357.20 408.30 L357.30 406.90 A3.10 3.10 0 0 1 363.50 406.90 L363.60 408.30 Z" fill="#0c0d11"/>
<path d="M375.55 408.30 L375.65 406.90 A3.10 3.10 0 0 1 381.85 406.90 L381.95 408.30 Z" fill="#0c0d11"/>
<path d="M393.90 408.30 L394.00 406.90 A3.10 3.10 0 0 1 400.20 406.90 L400.30 408.30 Z" fill="#0c0d11"/>
<path d="M412.25 408.30 L412.35 406.90 A3.10 3.10 0 0 1 418.55 406.90 L418.65 408.30 Z" fill="#0c0d11"/>
<path d="M430.60 408.30 L430.70 406.90 A3.10 3.10 0 0 1 436.90 406.90 L437.00 408.30 Z" fill="#0c0d11"/>
<path d="M448.95 408.30 L449.05 406.90 A3.10 3.10 0 0 1 455.25 406.90 L455.35 408.30 Z" fill="#0c0d11"/>
<path d="M467.30 408.30 L467.40 406.90 A3.10 3.10 0 0 1 473.60 406.90 L473.70 408.30 Z" fill="#0c0d11"/>
<path d="M485.65 408.30 L485.75 406.90 A3.10 3.10 0 0 1 491.95 406.90 L492.05 408.30 Z" fill="#0c0d11"/>
<path d="M504.00 408.30 L504.10 406.90 A3.10 3.10 0 0 1 510.30 406.90 L510.40 408.30 Z" fill="#0c0d11"/>
<path d="M522.35 408.30 L522.45 406.90 A3.10 3.10 0 0 1 528.65 406.90 L528.75 408.30 Z" fill="#0c0d11"/>
<path d="M540.70 408.30 L540.80 406.90 A3.10 3.10 0 0 1 547.00 406.90 L547.10 408.30 Z" fill="#0c0d11"/>
<path d="M559.05 408.30 L559.15 406.90 A3.10 3.10 0 0 1 565.35 406.90 L565.45 408.30 Z" fill="#0c0d11"/>
<path d="M577.40 408.30 L577.50 406.90 A3.10 3.10 0 0 1 583.70 406.90 L583.80 408.30 Z" fill="#0c0d11"/>
<path d="M595.75 408.30 L595.85 406.90 A3.10 3.10 0 0 1 602.05 406.90 L602.15 408.30 Z" fill="#0c0d11"/>
<path d="M614.10 408.30 L614.20 406.90 A3.10 3.10 0 0 1 620.40 406.90 L620.50 408.30 Z" fill="#0c0d11"/>
<path d="M632.45 408.30 L632.55 406.90 A3.10 3.10 0 0 1 638.75 406.90 L638.85 408.30 Z" fill="#0c0d11"/>
<path d="M115.2 434.7 L694.5 433.9 V435.8 L115.2 436.6 Z" fill="#9a9b9d"/>
<rect x="115.5" y="563" width="583.5" height="1.1" fill="#08080a"/>
<path d="M115.3 564.1 H699.2 V569 Q699.2 572.6 695 573 L405 575.6 L120 574.6 Q115.3 574 115.3 570 Z" fill="#0b0c10"/>
<g>
<circle cx="171.6" cy="472.3" r="13.3" fill="#1d1f25"/>
<circle cx="171.6" cy="472.3" r="12.2" fill="none" stroke="#2b2e36" stroke-width="1.6"/>
<circle cx="171.6" cy="472.3" r="9.6" fill="#14161b"/>
<circle cx="171.6" cy="472" r="7.8" fill="#020203"/>
<path d="M160.5 485.6 Q166 489.3 174 488.7" fill="none" stroke="#55585f" stroke-width="0.9" opacity="0.8"/>
</g>
<g transform="translate(206.25 464.4)">
<rect x="-1.2" y="-1.2" width="74.9" height="59.6" fill="#050506"/>
<rect x="0" y="0" width="72.5" height="56.2" rx="1" fill="#d3d5d2"/>
<rect x="0.8" y="0.8" width="70.9" height="3" fill="#cbcdca"/>
<rect x="0.8" y="51.8" width="70.9" height="3.6" fill="#f2f2f0"/>
<path d="M7.5 8.6 H65 V17.2 H66.8 V19.2 H65 V28.4 H66.8 V30.4 H65 V52 H47.5 V56.6 H25.6 V52 H7.5 V30.4 H5.7 V28.4 H7.5 V19.2 H5.7 V17.2 H7.5 Z" fill="#040405"/>
<rect x="8.2" y="40" width="56" height="11.6" fill="#0d1222"/>
<rect x="24.5" y="39.7" width="27" height="5" rx="2" fill="url(#lanmetal)"/>
<rect x="25.8" y="46.5" width="21.5" height="9.6" fill="#07080d"/>
<rect x="4.6" y="43.4" width="13.6" height="9.2" rx="2.2" fill="#1f6a1c"/>
<ellipse cx="11.4" cy="48" rx="5.6" ry="3.3" fill="#57c23c"/>
<ellipse cx="11.4" cy="47.6" rx="3.2" ry="1.6" fill="#8be060" opacity="0.8"/>
<rect x="55.4" y="43.4" width="13.6" height="9.2" rx="2.2" fill="#6f6c12"/>
<ellipse cx="62.2" cy="48" rx="5.6" ry="3.3" fill="#d8cf22"/>
<ellipse cx="62.2" cy="47.6" rx="3.2" ry="1.6" fill="#eee64e" opacity="0.8"/>
<path d="M-0.5 59.3 H73" stroke="#4a4b4d" stroke-width="0.8" stroke-dasharray="3 1.4" opacity="0.8"/>
</g>
<g transform="translate(285.6 464)">
<rect x="-1.2" y="-1.2" width="74.9" height="59.6" fill="#050506"/>
<rect x="0" y="0" width="72.5" height="56.2" rx="1" fill="#d3d5d2"/>
<rect x="0.8" y="0.8" width="70.9" height="3" fill="#cbcdca"/>
<rect x="0.8" y="51.8" width="70.9" height="3.6" fill="#f2f2f0"/>
<path d="M7.5 8.6 H65 V17.2 H66.8 V19.2 H65 V28.4 H66.8 V30.4 H65 V52 H47.5 V56.6 H25.6 V52 H7.5 V30.4 H5.7 V28.4 H7.5 V19.2 H5.7 V17.2 H7.5 Z" fill="#040405"/>
<rect x="8.2" y="40" width="56" height="11.6" fill="#0d1222"/>
<rect x="24.5" y="39.7" width="27" height="5" rx="2" fill="url(#lanmetal)"/>
<rect x="25.8" y="46.5" width="21.5" height="9.6" fill="#07080d"/>
<rect x="4.6" y="43.4" width="13.6" height="9.2" rx="2.2" fill="#1f6a1c"/>
<ellipse cx="11.4" cy="48" rx="5.6" ry="3.3" fill="#57c23c"/>
<ellipse cx="11.4" cy="47.6" rx="3.2" ry="1.6" fill="#8be060" opacity="0.8"/>
<rect x="55.4" y="43.4" width="13.6" height="9.2" rx="2.2" fill="#6f6c12"/>
<ellipse cx="62.2" cy="48" rx="5.6" ry="3.3" fill="#d8cf22"/>
<ellipse cx="62.2" cy="47.6" rx="3.2" ry="1.6" fill="#eee64e" opacity="0.8"/>
<path d="M-0.5 59.3 H73" stroke="#4a4b4d" stroke-width="0.8" stroke-dasharray="3 1.4" opacity="0.8"/>
</g>
<g>
<path d="M379.5 466.6 H438.6 L447.6 475.2 V489 L439 492.8 H379.5 Q376 492.8 376 489.6 V470 Q376 466.6 379.5 466.6 Z" fill="#050506" stroke="#f0efe8" stroke-width="1.5" stroke-linejoin="round"/>
<path d="M386.9 474.6 V480 H434.8 V474.6" fill="none" stroke="#7c7d7d" stroke-width="1.3"/>
<rect x="387.6" y="475.2" width="46.6" height="4.2" fill="#1b1c1f"/>
<rect x="447.4" y="481" width="1.8" height="4.6" fill="#cfcfc8"/>
<rect x="375" y="473" width="1.6" height="13" fill="#f5f5f0"/>
<rect x="380" y="492" width="58" height="1.7" rx="0.8" fill="#fbfbf6"/>
<rect x="380" y="465.9" width="58" height="1.5" rx="0.7" fill="#fbfbf6"/>
<g fill="#8e8e88"><rect x="383" y="488.4" width="2" height="0.9"/><rect x="396" y="488.4" width="3" height="0.9"/><rect x="402" y="488.4" width="3" height="0.9"/><rect x="420" y="488.4" width="3" height="0.9"/><rect x="436" y="488.4" width="2" height="0.9"/></g>
</g>
<g transform="translate(487.5 466.3) scale(0.975 1)">
<path d="M2 0 H14.5 Q16.4 0 17 1.8 L18.2 5.6 L22.2 9.6 Q23.6 11 23.6 13 V52 Q23.6 54 22.2 55.3 L18.2 59 L17 62.6 Q16.4 64.4 14.5 64.4 H2 Q0 64.4 0 62.4 V2 Q0 0 2 0 Z" fill="#060607" stroke="#e6e6e0" stroke-width="1.1" stroke-linejoin="round"/>
<rect x="9.6" y="9.6" width="3.6" height="44" rx="1.8" fill="#3b4146"/>
<rect x="10.4" y="11" width="1.4" height="41" rx="0.7" fill="#4d545a"/>
<rect x="2.6" y="56" width="13" height="6" fill="#14130f" opacity="0.9"/>
</g>
<g transform="translate(552.6 466.3) scale(0.975 1)">
<path d="M2 0 H14.5 Q16.4 0 17 1.8 L18.2 5.6 L22.2 9.6 Q23.6 11 23.6 13 V52 Q23.6 54 22.2 55.3 L18.2 59 L17 62.6 Q16.4 64.4 14.5 64.4 H2 Q0 64.4 0 62.4 V2 Q0 0 2 0 Z" fill="#060607" stroke="#e6e6e0" stroke-width="1.1" stroke-linejoin="round"/>
<rect x="9.6" y="9.6" width="3.6" height="44" rx="1.8" fill="#3b4146"/>
<rect x="10.4" y="11" width="1.4" height="41" rx="0.7" fill="#4d545a"/>
<rect x="2.6" y="56" width="13" height="6" fill="#14130f" opacity="0.9"/>
</g>
<g transform="translate(482.4 536.3)">
<rect x="1.1" y="1.1" width="25.5" height="17.5" rx="2.8" fill="#08080a" stroke="#fff" stroke-width="2.2"/>
<text x="2.6" y="15.6" font-family="'Liberation Sans',sans-serif" font-weight="bold" font-style="italic" font-size="15.4" fill="#fff" letter-spacing="-0.5" text-rendering="geometricPrecision">HD</text>
<path d="M7.8 22.9 H20" stroke="#fff" stroke-width="2" stroke-linecap="round"/>
<path d="M10.6 19.4 H17.2 L18.4 22.4 H9.4 Z" fill="#fff"/>
</g>
<g transform="translate(550.4 536.3)">
<rect x="1.1" y="1.1" width="25.5" height="17.5" rx="2.8" fill="#08080a" stroke="#fff" stroke-width="2.2"/>
<text x="2.6" y="15.6" font-family="'Liberation Sans',sans-serif" font-weight="bold" font-style="italic" font-size="15.4" fill="#fff" letter-spacing="-0.5" text-rendering="geometricPrecision">HD</text>
<path d="M7.8 22.9 H20" stroke="#fff" stroke-width="2" stroke-linecap="round"/>
<path d="M10.6 19.4 H17.2 L18.4 22.4 H9.4 Z" fill="#fff"/>
</g>
<g>
<circle cx="633" cy="484.8" r="16.6" fill="#050506"/>
<circle cx="633" cy="484.8" r="14.5" fill="none" stroke="url(#dcring)" stroke-width="2.8"/>
<polygon points="647.20,484.80 640.10,497.10 625.90,497.10 618.80,484.80 625.90,472.50 640.10,472.50" fill="#060607"/>
<circle cx="633" cy="484.8" r="15.7" fill="none" stroke="#cfcfcc" stroke-width="0.8" opacity="0.9"/>
<circle cx="632.8" cy="484.6" r="8.4" fill="none" stroke="#3a3c40" stroke-width="1.6"/>
<circle cx="632.6" cy="484.4" r="4.8" fill="#2d2e31"/>
<circle cx="632.5" cy="484.2" r="2.2" fill="#f0f0ec"/>
<path d="M623.6 479.5 A10.5 10.5 0 0 0 625.6 491.4" fill="none" stroke="#8e9092" stroke-width="1.3" opacity="0.85"/>
</g>
</g>

<!-- red leader lines -->
<g fill="#fb0007" shape-rendering="crispEdges">
<rect x="170" y="133" width="1" height="110"/>
<rect x="240" y="133" width="1" height="97"/>
<rect x="240" y="133" width="178" height="1"/>
<rect x="417" y="133" width="1" height="98"/>
<rect x="598" y="133" width="1" height="110"/>
<rect x="172" y="526" width="1" height="147"/>
<rect x="239" y="566" width="1" height="106"/>
<rect x="239" y="671" width="89" height="1"/>
<rect x="327" y="565" width="1" height="107"/>
<rect x="406" y="562" width="1" height="111"/>
<rect x="495" y="562" width="1" height="111"/>
<rect x="567" y="562" width="1" height="111"/>
<rect x="636" y="562" width="1" height="111"/>
</g>

<!-- blue labels -->
<g>
<text class="cj" x="151.27" y="120.65" font-size="17.91" letter-spacing="2.13">开关</text>
<text class="lb" transform="translate(224.82 120.21) scale(0.92 1)" font-size="18.76" letter-spacing="3.02">2*USB3.0</text>
<text class="lb" transform="translate(333.72 120.21) scale(0.92 1)" font-size="18.76" letter-spacing="3.02">4*USB2.0</text>
<text class="lb" transform="translate(535.33 120.21) scale(0.92 1)" font-size="18.76" letter-spacing="2.40">COM(RS232)</text>
<text class="cj" x="153.07" y="697.64" font-size="17.84" letter-spacing="2.62">音频</text>
<text class="lb" transform="translate(228.07 698.66) scale(0.92 1)" font-size="18.84" letter-spacing="2.97">2*</text>
<text class="cj" x="251.27" y="697.64" font-size="18.25" letter-spacing="2.00">千兆网口</text>
<text class="lb" transform="translate(393.09 698.66) scale(0.92 1)" font-size="19.11" letter-spacing="2.43">DP</text>
<text class="lb" transform="translate(470.59 698.66) scale(0.92 1)" font-size="19.11" letter-spacing="2.71">HDMI</text>
<text class="lb" transform="translate(542.62 698.66) scale(0.92 1)" font-size="19.11" letter-spacing="2.72">HDMI</text>
<text class="cj" x="616.73" y="697.87" font-size="18.13" letter-spacing="2.62">电源</text>
</g>

<!-- device silk labels -->
<g filter="url(#soft)">
<text class="dv" transform="translate(564.00 304.68) scale(1.060 1)" font-size="15.00">COM</text>
<text class="dv" transform="translate(148.28 502.54) scale(1.074 1)" font-size="14.12">AUDIO</text>
<text class="dv" transform="translate(222.60 544.21) scale(0.980 1)" font-size="14.95">LAN1</text>
<text class="dv" transform="translate(303.25 544.21) scale(1.015 1)" font-size="14.31">LAN2</text>
<text class="dv" transform="translate(397.57 517.87) scale(0.998 1)" font-size="14.95">DP</text>
<text class="dv" transform="translate(611.80 527.06) scale(1.039 1)" font-size="14.03">DC 12V</text>
</g>
</svg>
</body>
</html>
